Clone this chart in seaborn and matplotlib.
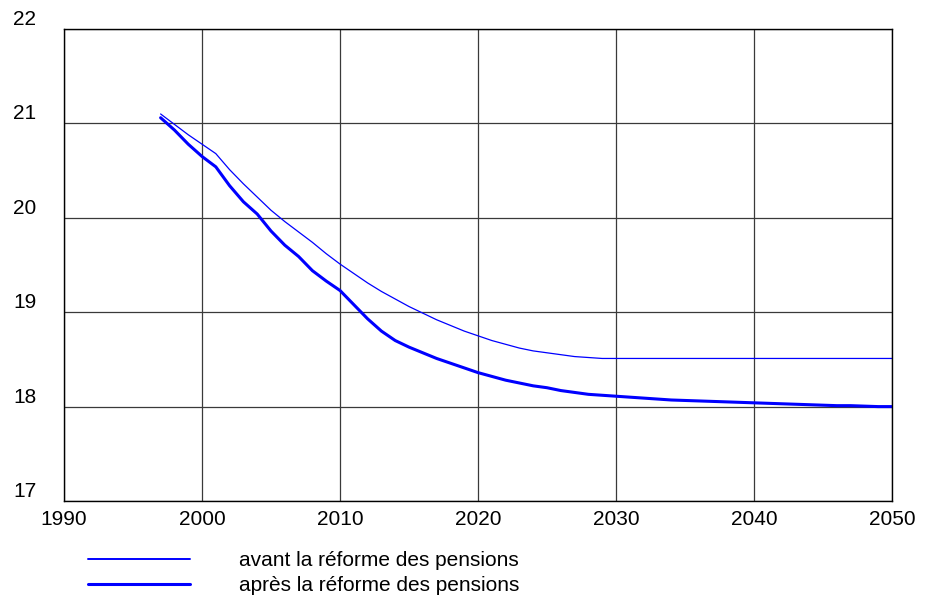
import matplotlib
matplotlib.use("Agg")
import matplotlib.pyplot as plt
import seaborn as sns
import pandas as pd

# Years covered by both projections
years = list(range(1997, 2051))

# Projection before the pension reform
avant = [21.10, 20.99, 20.88, 20.78, 20.68, 20.51, 20.36, 20.22, 20.08, 19.96,
         19.85, 19.74, 19.62, 19.51, 19.41, 19.31, 19.22, 19.14, 19.06, 18.99,
         18.92, 18.86, 18.80, 18.75, 18.70, 18.66, 18.62, 18.59, 18.57, 18.55,
         18.53, 18.52, 18.51, 18.51, 18.51, 18.51, 18.51, 18.51, 18.51, 18.51,
         18.51, 18.51, 18.51, 18.51, 18.51, 18.51, 18.51, 18.51, 18.51, 18.51,
         18.51, 18.51, 18.51, 18.51]

# Projection after the pension reform
apres = [21.06, 20.93, 20.78, 20.65, 20.54, 20.34, 20.17, 20.04, 19.86, 19.71,
         19.59, 19.44, 19.33, 19.23, 19.08, 18.93, 18.80, 18.70, 18.63, 18.57,
         18.51, 18.46, 18.41, 18.36, 18.32, 18.28, 18.25, 18.22, 18.20, 18.17,
         18.15, 18.13, 18.12, 18.11, 18.10, 18.09, 18.08, 18.07, 18.065, 18.06,
         18.055, 18.05, 18.045, 18.04, 18.035, 18.03, 18.025, 18.02, 18.015, 18.01,
         18.01, 18.005, 18.00, 18.00]

series_labels = ["avant la réforme des pensions", "après la réforme des pensions"]
x_ticks = [1990, 2000, 2010, 2020, 2030, 2040, 2050]
y_ticks = [17, 18, 19, 20, 21, 22]

sns.set_theme(style="white")
plt.rcParams["font.family"] = ["Liberation Sans", "DejaVu Sans"]
plt.rcParams["text.color"] = "black"

fig = plt.figure(figsize=(9.3, 5.99), dpi=100)
ax = fig.add_axes([64 / 930, 1 - 501 / 599, (892 - 64) / 930, (501 - 29) / 599])

df_avant = pd.DataFrame({"année": years, "valeur": avant})
df_apres = pd.DataFrame({"année": years, "valeur": apres})

sns.lineplot(data=df_avant, x="année", y="valeur", ax=ax, color="#0000ff",
             linewidth=0.9, label=series_labels[0], legend=False)
sns.lineplot(data=df_apres, x="année", y="valeur", ax=ax, color="#0000ff",
             linewidth=2.2, label=series_labels[1], legend=False)

ax.set_xlim(1990, 2050)
ax.set_ylim(17, 22)
ax.set_xticks(x_ticks)
ax.set_yticks(y_ticks)
ax.set_xlabel("")
ax.set_ylabel("")

ax.grid(True, color="#3a3a3a", linewidth=0.9)
ax.set_axisbelow(True)
for sp in ax.spines.values():
    sp.set_color("black")
    sp.set_linewidth(1.0)
    sp.set_visible(True)

ax.tick_params(axis="both", length=0, labelsize=15, colors="black")
ax.tick_params(axis="x", pad=6.5)
ax.tick_params(axis="y", pad=36.5)
for lbl in ax.get_yticklabels():
    lbl.set_horizontalalignment("left")
    lbl.set_verticalalignment("bottom")

handles, labels = ax.get_legend_handles_labels()
leg = fig.legend(handles, labels, loc="upper left",
                 bbox_to_anchor=(88 / 930, 1 - 551 / 599),
                 frameon=False, fontsize=15, handlelength=4.9, handletextpad=2.35,
                 labelspacing=0.3, borderpad=0, borderaxespad=0)
leg.get_lines()[0].set_linewidth(1.4)
for t in leg.get_texts():
    t.set_color("black")

fig.savefig("out.png", dpi=100, facecolor="white")
